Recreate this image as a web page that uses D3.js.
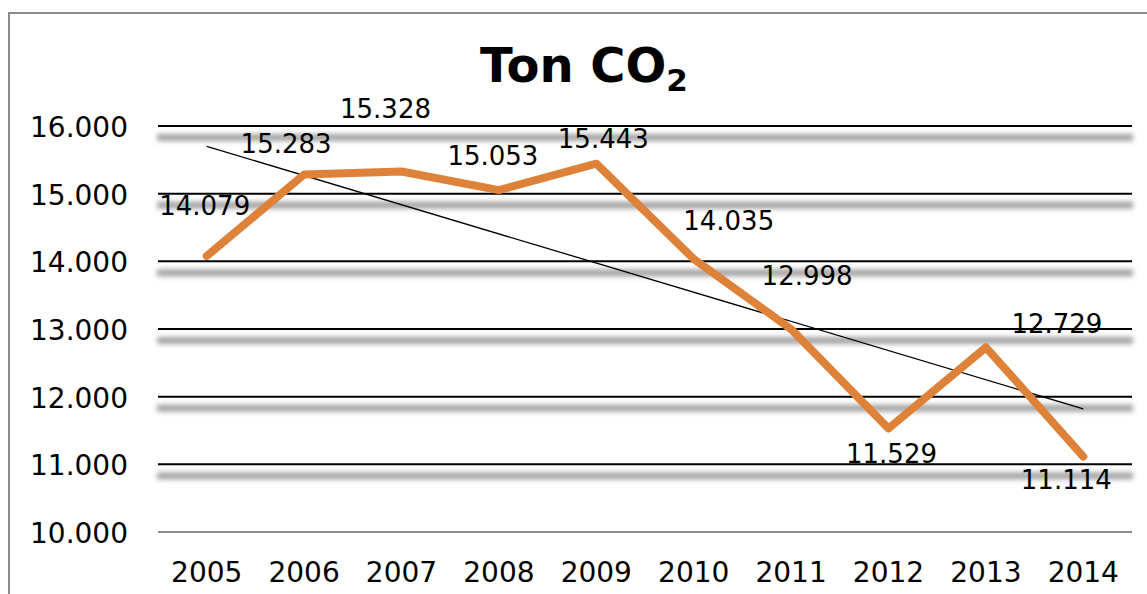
<!DOCTYPE html>
<meta charset="utf-8">
<style>
body { margin: 0; background: white; }
text { font-family: "DejaVu Sans", Verdana, sans-serif; }
</style>
<body>
<script src="https://d3js.org/d3.v7.min.js"></script>
<script>

// data
var years = ["2005", "2006", "2007", "2008", "2009", "2010", "2011", "2012", "2013", "2014"];
var tons = [14079, 15283, 15328, 15053, 15443, 14035, 12998, 11529, 12729, 11114];
var yTicks = [10000, 11000, 12000, 13000, 14000, 15000, 16000];

// where each value label sits relative to its point (dx, dy)
var labelOffsets = [[-2, -41], [-18, -22], [-16, -53], [-6, -25], [7, -16],
                    [35, -29], [16, -44], [3, 34], [71, -14], [-17, 32]];

var width = 1147,
    height = 594;

var svg = d3.select("body").append("svg")
    .attr("width", width)
    .attr("height", height);

var defs = svg.append("defs");
defs.append("filter")
    .attr("id", "blur")
    .attr("filterUnits", "userSpaceOnUse")
    .attr("x", 0).attr("y", 0)
    .attr("width", width).attr("height", height)
  .append("feGaussianBlur")
    .attr("stdDeviation", 2.6);

// chart frame
svg.append("rect")
    .attr("x", 9).attr("y", 13)
    .attr("width", 1300).attr("height", 700)
    .attr("fill", "none")
    .attr("stroke", "#8c8c8c")
    .attr("stroke-width", 2);

var x = d3.scaleBand()
    .domain(years)
    .range([158, 1132]);

var y = d3.scaleLinear()
    .domain([10000, 16000])
    .range([532, 126]);

var fmt = d3.formatLocale({decimal: ",", thousands: ".", grouping: [3], currency: ["", ""]}).format(",d");

var cx = function(d, i) { return x(years[i]) + x.bandwidth() / 2; };

// gridline shadows
svg.append("g")
    .attr("filter", "url(#blur)")
  .selectAll("rect")
    .data(yTicks.slice(1))
    .enter().append("rect")
    .attr("x", 157).attr("width", 976)
    .attr("y", function(d) { return y(d) + 8; })
    .attr("height", 7)
    .attr("fill", "#a3a3a3");

// gridlines
svg.append("g").selectAll("line")
    .data(yTicks.slice(1))
    .enter().append("line")
    .attr("x1", 158).attr("x2", 1132)
    .attr("y1", function(d) { return y(d); })
    .attr("y2", function(d) { return y(d); })
    .attr("stroke", "#000")
    .attr("stroke-width", 2);

// category axis line
svg.append("line")
    .attr("x1", 158).attr("x2", 1132)
    .attr("y1", y(10000)).attr("y2", y(10000))
    .attr("stroke", "#8c8c8c")
    .attr("stroke-width", 2);

// y tick labels
svg.append("g").selectAll("text")
    .data(yTicks)
    .enter().append("text")
    .attr("x", 128)
    .attr("y", function(d) { return y(d) + 11; })
    .attr("text-anchor", "end")
    .attr("font-size", 28)
    .text(fmt);

// x tick labels
svg.append("g").selectAll("text")
    .data(years)
    .enter().append("text")
    .attr("x", function(d) { return x(d) + x.bandwidth() / 2; })
    .attr("y", 582)
    .attr("text-anchor", "middle")
    .attr("font-size", 28)
    .text(function(d) { return d; });

// linear trend
var n = tons.length,
    mx = d3.mean(tons, function(d, i) { return i; }),
    my = d3.mean(tons),
    sxy = d3.sum(tons, function(d, i) { return (i - mx) * (d - my); }),
    sxx = d3.sum(tons, function(d, i) { return (i - mx) * (i - mx); }),
    slope = sxy / sxx,
    icpt = my - slope * mx;

svg.append("line")
    .attr("x1", cx(0, 0)).attr("y1", y(icpt))
    .attr("x2", cx(0, n - 1)).attr("y2", y(icpt + slope * (n - 1)))
    .attr("stroke", "#000")
    .attr("stroke-width", 1.3);

// the series
var line = d3.line()
    .x(function(d, i) { return cx(d, i); })
    .y(function(d) { return y(d); });

svg.append("path")
    .datum(tons)
    .attr("d", line)
    .attr("fill", "none")
    .attr("stroke", "#DE8139")
    .attr("stroke-width", 8)
    .attr("stroke-linejoin", "round")
    .attr("stroke-linecap", "round");

// value labels
svg.append("g").selectAll("text")
    .data(tons)
    .enter().append("text")
    .attr("x", function(d, i) { return cx(d, i) + labelOffsets[i][0]; })
    .attr("y", function(d, i) { return y(d) + labelOffsets[i][1]; })
    .attr("text-anchor", "middle")
    .attr("font-size", 26)
    .text(fmt);

// title
var title = svg.append("text")
    .attr("x", 584)
    .attr("y", 82)
    .attr("text-anchor", "middle")
    .attr("font-size", 48)
    .attr("font-weight", "bold");
title.append("tspan").text("Ton CO");
title.append("tspan").attr("font-size", 31).attr("dy", 9).text("2");

</script>
</body>
</html>
